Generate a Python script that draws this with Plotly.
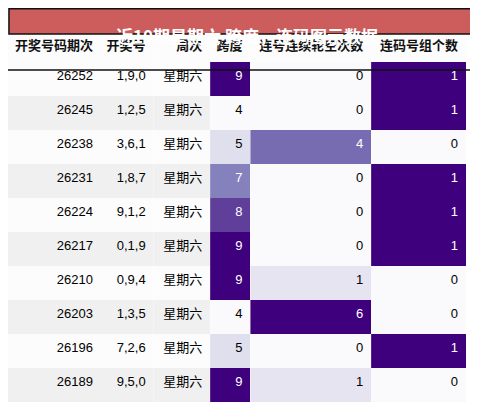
import plotly.graph_objects as go
from plotly.colors import sample_colorscale

issues = ["26252", "26245", "26238", "26231", "26224", "26217", "26210", "26203", "26196", "26189"]
numbers = ["1,9,0", "1,2,5", "3,6,1", "1,8,7", "9,1,2", "0,1,9", "0,9,4", "1,3,5", "7,2,6", "9,5,0"]
weekday = ["星期六"] * 10
span = [9, 4, 5, 7, 8, 9, 9, 4, 5, 9]
gap_runs = [0, 0, 4, 0, 0, 0, 1, 6, 0, 1]
consec_groups = [1, 1, 0, 1, 1, 1, 0, 0, 1, 0]
headers = ["开奖号码期次", "开奖号", "周次", "跨度", "连号连续轮空次数", "连码号组个数"]

row_bg = ["#fcfcfc" if i % 2 == 0 else "#f0f0f0" for i in range(10)]


def grad(vals):
    lo, hi = min(vals), max(vals)
    ts = [(v - lo) / (hi - lo) for v in vals]
    fills = sample_colorscale("Purples", [0.02 + 0.98 * t for t in ts])
    fonts = ["white" if t > 0.5 else "black" for t in ts]
    return fills, fonts


fills, fonts = [row_bg] * 3, [["black"] * 10] * 3
for col in (span, gap_runs, consec_groups):
    f, c = grad(col)
    fills.append(f)
    fonts.append(c)

fig = go.Figure(go.Table(
    columnwidth=[97, 55, 59, 42, 126, 99],
    header=dict(values=[f"<b>{h}</b>" for h in headers], align="right", height=35,
                fill_color="#fcfcfc", line_width=0,
                font=dict(family="Noto Sans CJK SC", size=13, color="#111")),
    cells=dict(values=[issues, numbers, weekday, span, gap_runs, consec_groups],
               align="right", height=34, fill_color=fills, line_width=0,
               font=dict(family="Liberation Sans, Noto Sans CJK SC", size=13, color=fonts)),
    domain=dict(x=[0, 0.96], y=[0, 1 - 19 / 404]),
))

fig.add_shape(type="rect", xref="paper", yref="paper", x0=0.002, x1=0.998, y0=1 - 26 / 404, y1=0.998,
              fillcolor="#cd5c5c", line=dict(color="#111", width=1.5))
fig.add_shape(type="line", xref="paper", yref="paper", x0=0, x1=1,
              y0=1 - 62 / 404, y1=1 - 62 / 404, line=dict(color="#111", width=1.5))
fig.add_annotation(text="<b>近10期星期六 跨度，连码图示数据</b>", xref="paper", yref="paper",
                   x=0.5, y=1 - 13 / 404, showarrow=False,
                   font=dict(family="Noto Sans CJK SC", size=17, color="white"))

fig.update_layout(width=478, height=404, margin=dict(l=0, r=0, t=0, b=0),
                  paper_bgcolor="white")
fig.write_html("out.html")
